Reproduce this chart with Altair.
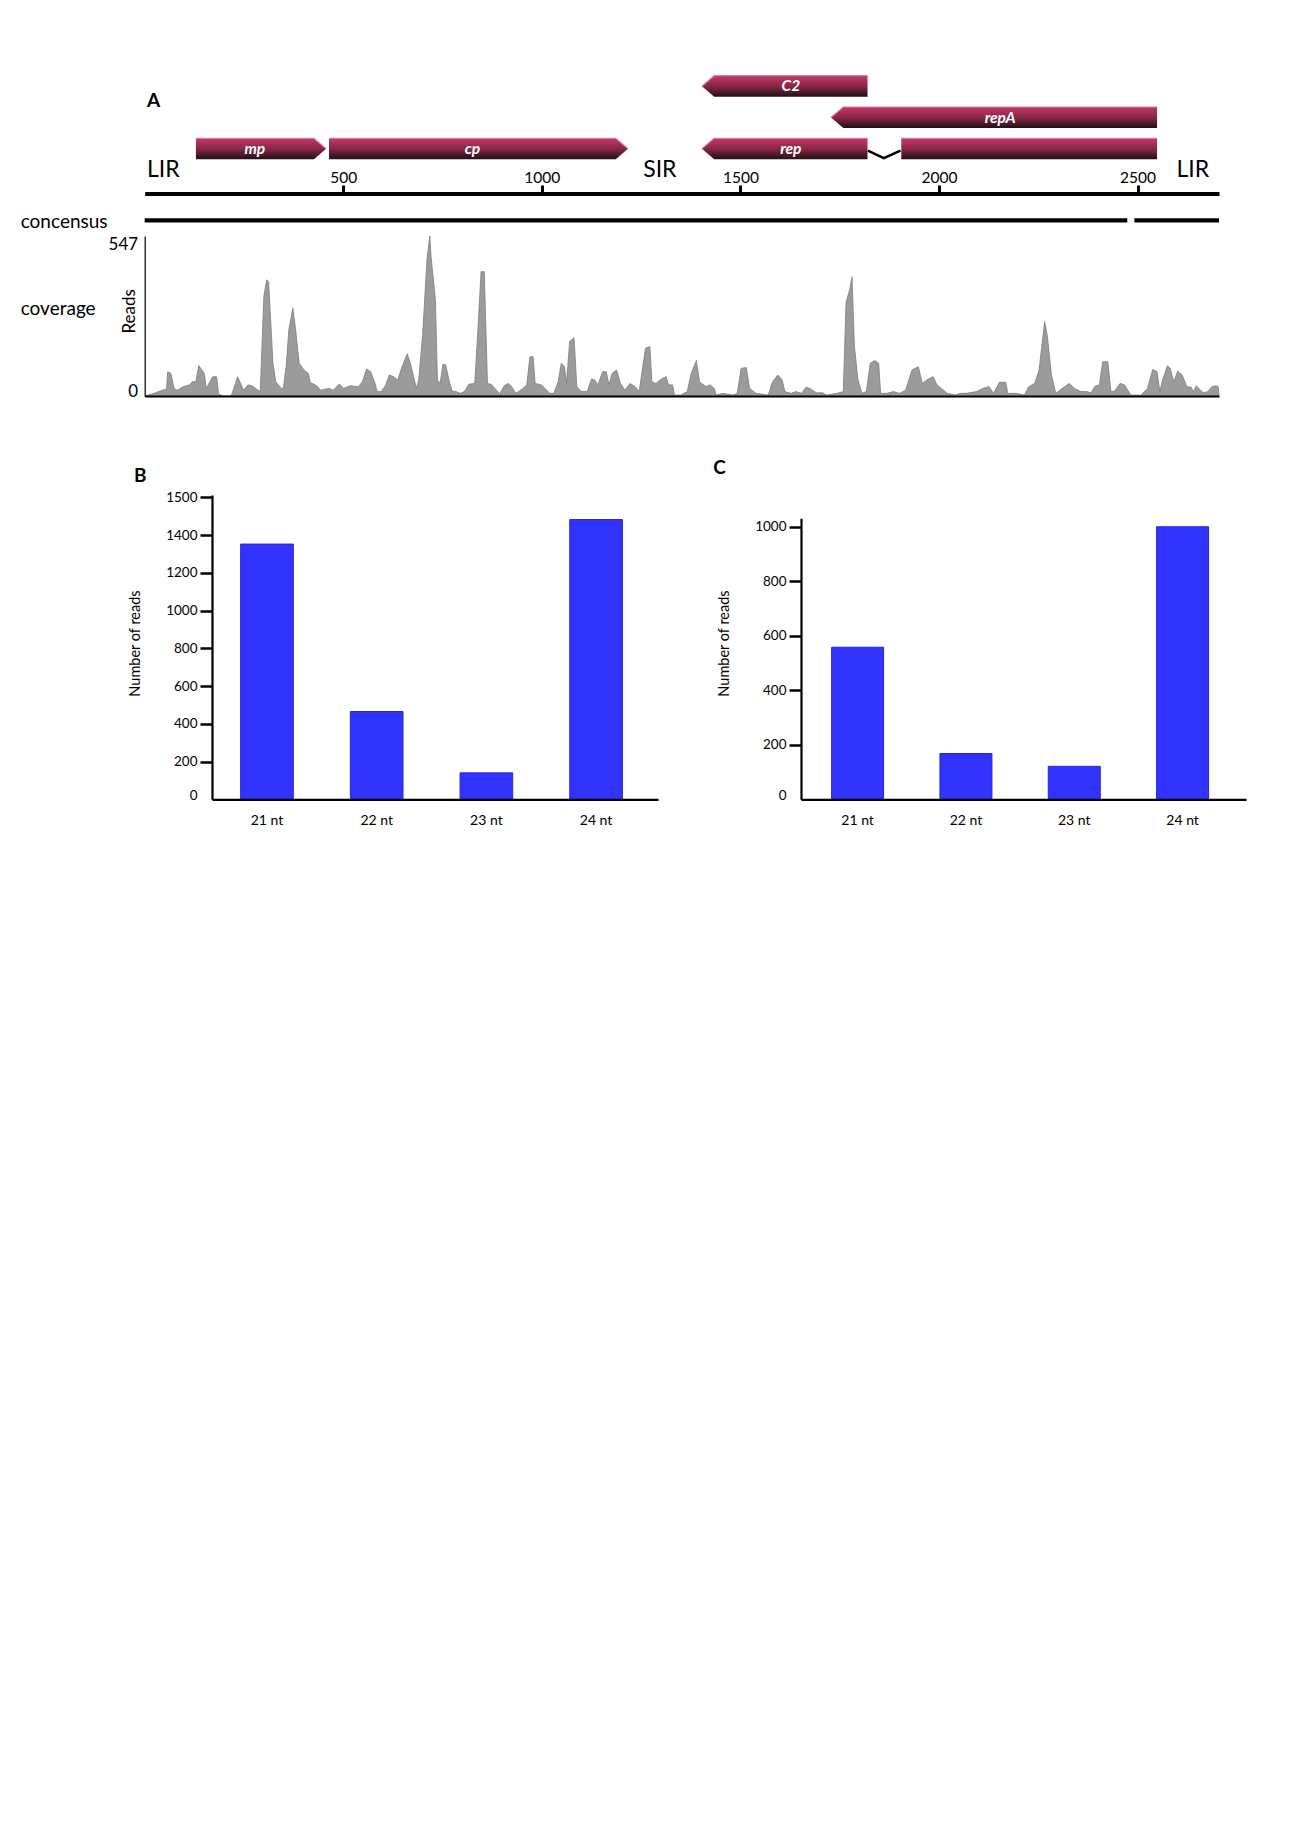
import altair as alt
import pandas as pd

# ------------------------------------------------------------------ data
genome_length = 2705
genome_ticks = [500, 1000, 1500, 2000, 2500]

gene_names = ["mp", "cp", "C2", "repA", "rep"]
gene_starts = [129, 464, 1403, 1728, 1403]
gene_ends = [457, 1217, 1820, 2549, 1820]
gene_strand = ["+", "+", "-", "-", "-"]
gene_lane = [0, 0, 2, 1, 0]
rep_exon2 = [1905, 2549]
intron_x = [1821, 1861, 1903]
intron_lane = [-0.06, -0.30, -0.06]

region_labels = ["LIR", "SIR", "LIR"]
region_pos = [47, 1297, 2639]

consensus_starts = [0, 2492]
consensus_ends = [2474, 2705]

coverage_pos = [
    0, 24, 45, 55, 58, 66, 74, 82, 97, 113, 120, 129, 136, 150, 155, 171, 181, 186, 197, 218,
    234, 249, 260, 270, 281, 291, 300, 307, 312, 317, 323, 330, 344, 349, 356, 363, 373, 380, 389, 401,
    412, 417, 433, 443, 464, 475, 490, 501, 517, 538, 548, 559, 569, 580, 585, 595, 606, 616, 627, 637,
    648, 661, 669, 679, 684, 690, 700, 711, 718, 721, 732, 737, 744, 751, 758, 766, 774, 784, 795, 805,
    816, 831, 839, 847, 855, 863, 873, 886, 894, 905, 915, 924, 934, 947, 962, 970, 978, 983, 999, 1020,
    1030, 1041, 1049, 1057, 1062, 1070, 1081, 1088, 1099, 1114, 1125, 1133, 1141, 1153, 1162, 1169, 1177, 1188, 1198, 1209,
    1222, 1235, 1245, 1261, 1272, 1277, 1287, 1303, 1313, 1319, 1329, 1334, 1350, 1366, 1376, 1389, 1397, 1413, 1424, 1434,
    1439, 1455, 1481, 1492, 1502, 1515, 1523, 1539, 1570, 1581, 1594, 1605, 1612, 1628, 1639, 1654, 1665, 1675, 1691, 1707,
    1717, 1743, 1759, 1766, 1775, 1781, 1787, 1796, 1806, 1817, 1827, 1838, 1848, 1853, 1869, 1885, 1901, 1916, 1932, 1948,
    1958, 1969, 1985, 1995, 2006, 2021, 2042, 2053, 2068, 2095, 2110, 2126, 2137, 2152, 2168, 2173, 2194, 2215, 2226, 2241,
    2252, 2266, 2273, 2283, 2294, 2310, 2328, 2341, 2357, 2372, 2383, 2393, 2404, 2412, 2425, 2433, 2441, 2456, 2467, 2483,
    2509, 2525, 2538, 2549, 2556, 2563, 2575, 2582, 2591, 2601, 2612, 2624, 2635, 2640, 2648, 2658, 2666, 2677, 2687, 2698,
    2703, 2705,
]
coverage_reads = [
    0, 9, 20, 23, 83, 77, 26, 20, 32, 38, 49, 49, 104, 77, 26, 66, 66, 7, 0, 0,
    66, 20, 38, 35, 24, 15, 340, 397, 391, 260, 112, 49, 26, 26, 100, 226, 300, 226, 112, 89,
    77, 46, 35, 20, 26, 20, 41, 26, 35, 32, 49, 92, 83, 43, 15, 15, 35, 72, 66, 55,
    100, 144, 112, 55, 26, 55, 214, 471, 547, 476, 328, 55, 43, 109, 106, 55, 17, 15, 9, 15,
    40, 43, 226, 425, 425, 43, 39, 20, 7, 35, 43, 32, 9, 20, 38, 134, 134, 43, 38, 9,
    9, 49, 112, 100, 43, 186, 199, 32, 15, 15, 58, 55, 38, 83, 83, 38, 77, 89, 43, 20,
    43, 32, 15, 163, 169, 49, 43, 60, 66, 38, 38, 3, 3, 15, 77, 121, 49, 32, 38, 26,
    3, 9, 3, 9, 95, 97, 26, 9, 3, 49, 72, 55, 15, 9, 15, 9, 30, 26, 11, 11,
    3, 9, 15, 322, 362, 408, 169, 55, 9, 15, 112, 121, 112, 9, 9, 15, 9, 20, 89, 100,
    43, 55, 66, 38, 26, 9, 3, 9, 9, 15, 26, 32, 9, 47, 47, 9, 9, 3, 32, 43,
    89, 254, 203, 72, 9, 26, 43, 26, 15, 15, 11, 34, 38, 117, 117, 15, 15, 43, 38, 3,
    3, 26, 91, 83, 15, 55, 103, 95, 49, 85, 72, 32, 30, 15, 35, 20, 11, 15, 32, 35,
    32, 0,
]

size_classes = ["21 nt", "22 nt", "23 nt", "24 nt"]
reads_B = [1352, 465, 140, 1482]
reads_C = [558, 168, 121, 1000]
tick_values_B = [0, 200, 400, 600, 800, 1000, 1200, 1400, 1600]
tick_labels_B = ["0", "200", "400", "600", "800", "1000", "1200", "1400", "1500"]
tick_values_C = [0, 200, 400, 600, 800, 1000]
tick_labels_C = ["0", "200", "400", "600", "800", "1000"]

# ------------------------------------------------------------------ layout
W, H = 1284, 835
FONT = "Lato"
HEAD = 31          # arrow head length (genome units)
HALF = 0.335       # half bar height (lane units)
LABEL_ROW = -0.668
CONSENSUS_ROW = -2.284

gx_scale = alt.Scale(domain=[0, genome_length], range=[136.7, 1211.0], nice=False, zero=False)
track_scale = alt.Scale(domain=[0, 2], range=[140.8, 78.2], nice=False, zero=False)
cov_scale = alt.Scale(domain=[0, 547], range=[388, 228], nice=False, zero=False)


def label_expr(values, labels):
    expr = "''"
    for v, l in reversed(list(zip(values, labels))):
        expr = f"datum.value == {v} ? '{l}' : ({expr})"
    return expr


# gene arrow polygons
rows, centers = [], []
for name, s, e, st, ln in zip(gene_names, gene_starts, gene_ends, gene_strand, gene_lane):
    top, bot = ln + HALF, ln - HALF
    if st == "+":
        pts = [(s, top, bot), (e - HEAD, top, bot), (e, ln, ln)]
        cx = (s + e - HEAD) / 2
    else:
        pts = [(s, ln, ln), (s + HEAD, top, bot), (e, top, bot)]
        cx = (s + HEAD + e) / 2
    for x, yt, yb in pts:
        rows.append({"part": name + "_1", "x": x, "ytop": yt, "ybot": yb})
    centers.append({"gene": name, "cx": cx, "lane": ln})
for x in rep_exon2:
    rows.append({"part": "rep_2", "x": x, "ytop": HALF, "ybot": -HALF})
genes_df = pd.DataFrame(rows)
centers_df = pd.DataFrame(centers)

grad = alt.Gradient(
    gradient="linear",
    stops=[
        alt.GradientStop(color="#c23a62", offset=0),
        alt.GradientStop(color="#8a2646", offset=0.5),
        alt.GradientStop(color="#1c1216", offset=1),
    ],
    x1=0, x2=0, y1=0, y2=1,
)

gene_area = alt.Chart(genes_df).mark_area(color=grad, opacity=1).encode(
    x=alt.X("x:Q", scale=gx_scale, axis=None),
    y=alt.Y("ytop:Q", scale=track_scale, axis=None),
    y2="ybot:Q",
    detail="part:N",
)
gene_edge = alt.Chart(genes_df).mark_line(color="#e07a97", strokeWidth=1.2).encode(
    x=alt.X("x:Q", scale=gx_scale, axis=None),
    y=alt.Y("ytop:Q", scale=track_scale, axis=None),
    detail="part:N",
)
intron = alt.Chart(pd.DataFrame({"x": intron_x, "lane": intron_lane})).mark_line(
    color="black", strokeWidth=2.5
).encode(
    x=alt.X("x:Q", scale=gx_scale, axis=None),
    y=alt.Y("lane:Q", scale=track_scale, axis=None),
)
gene_text = alt.Chart(centers_df).mark_text(
    font=FONT, fontSize=15.5, fontWeight="bold", fontStyle="italic", color="white", baseline="middle"
).encode(
    x=alt.X("cx:Q", scale=gx_scale, axis=None),
    y=alt.Y("lane:Q", scale=track_scale, axis=None),
    text="gene:N",
)
region_text = alt.Chart(
    pd.DataFrame({"label": region_labels, "pos": region_pos, "row": [LABEL_ROW] * 3})
).mark_text(font=FONT, fontSize=23, color="black", baseline="middle").encode(
    x=alt.X("pos:Q", scale=gx_scale, axis=None),
    y=alt.Y("row:Q", scale=track_scale, axis=None),
    text="label:N",
)

cons = alt.Chart(
    pd.DataFrame({"start": consensus_starts, "end": consensus_ends, "row": [CONSENSUS_ROW] * 2})
).mark_rule(color="black", strokeWidth=4.3).encode(
    x=alt.X(
        "start:Q", scale=gx_scale,
        axis=alt.Axis(
            orient="top", offset=-185.5, values=genome_ticks, format="d", title=None, grid=False,
            domainWidth=4, domainColor="black", tickColor="black", tickWidth=3, tickSize=8.5,
            labelFontSize=15.5, labelPadding=0, labelFlush=False, labelOverlap=False, zindex=1,
        ),
    ),
    x2="end:Q",
    y=alt.Y("row:Q", scale=track_scale, axis=None),
)

cov = alt.Chart(pd.DataFrame({"pos": coverage_pos, "reads": coverage_reads})).mark_area(
    color="#9b9b9b", opacity=1, line={"color": "#7b7b7b", "strokeWidth": 0.8}
).encode(
    x=alt.X(
        "pos:Q", scale=gx_scale,
        axis=alt.Axis(orient="bottom", offset=388 - H, ticks=False, tickSize=0, labels=False,
                      domainWidth=2, domainColor="black", title=None, grid=False, zindex=1),
    ),
    y=alt.Y(
        "reads:Q", scale=cov_scale,
        axis=alt.Axis(orient="left", offset=-136.7, values=[0, 547], format="d", ticks=False,
                      tickSize=0, labelFlush=False,
                      labelBaseline={"condition": {"test": "datum.value === 0", "value": "alphabetic"},
                                     "value": "top"},
                      labelPadding=7, labelFontSize=17, domainWidth=1.2,
                      domainColor="black", grid=False, title="Reads", titleFontSize=17,
                      titleX=-15, titleY=302.8, titleBaseline="middle", zindex=1),
    ),
)


def bar_panel(values, y_domain_max, x_range, y_range, y_offset, ticks, labels, band):
    p_in, p_out, al = band
    return alt.Chart(pd.DataFrame({"size": size_classes, "reads": values})).mark_bar(
        color="#3333ff", stroke="#2626d4", strokeWidth=1
    ).encode(
        x=alt.X(
            "size:N", sort=size_classes,
            scale=alt.Scale(range=x_range, paddingInner=p_in, paddingOuter=p_out, align=al),
            axis=alt.Axis(orient="bottom", offset=y_range[0] - H, ticks=False, tickSize=0,
                          labelPadding=14, labelAngle=0, labelFontSize=14, domainWidth=2.2,
                          domainColor="black", title=None, grid=False, zindex=1),
        ),
        y=alt.Y(
            "reads:Q",
            scale=alt.Scale(domain=[0, y_domain_max], range=y_range, nice=False, zero=True),
            axis=alt.Axis(orient="left", offset=-y_offset, values=ticks,
                          labelExpr=label_expr(ticks, labels), labelFontSize=13.5,
                          labelPadding=3, labelOverlap=False, tickSize=12, tickWidth=2.5,
                          tickColor="black",
                          tickOpacity={"condition": {"test": "datum.value === 0", "value": 0}, "value": 1},
                          labelBaseline={"condition": {"test": "datum.value === 0", "value": "alphabetic"},
                                         "value": "middle"},
                          domainWidth=2.2, domainColor="black", grid=False,
                          title="Number of reads", titleFontSize=14.5, titleX=-77, titleY=635,
                          titleBaseline="middle", zindex=1),
        ),
    )


barB = bar_panel(reads_B, 1612, [204, 650], [791.3, 487], 204, tick_values_B, tick_labels_B,
                 (0.52, 0.293, 0.446))
barC = bar_panel(reads_C, 1031, [793, 1238], [791.3, 510.3], 793, tick_values_C, tick_labels_C,
                 (0.52, 0.314, 0.45))


def annot(text, x, y, size, weight="normal", align="center"):
    return alt.Chart(pd.DataFrame({"t": [text]})).mark_text(
        font=FONT, fontSize=size, fontWeight=weight, align=align, baseline="middle", color="black"
    ).encode(text="t:N", x=alt.value(x), y=alt.value(y))


txtA = annot("A", 145.5, 93.1, 19, "bold")
txtB = annot("B", 132.3, 468.1, 19, "bold")
txtC = annot("C", 711.5, 459.8, 19, "bold")
txt_cons = annot("concensus", 12.7, 213.6, 19, align="left")
txt_cov = annot("coverage", 12.7, 301.0, 19, align="left")

chart = (
    alt.layer(gene_area, gene_edge, intron, gene_text, region_text, cons, cov, barB, barC,
              txtA, txtB, txtC, txt_cons, txt_cov)
    .resolve_scale(x="independent", y="independent")
    .properties(width=W, height=H, padding=0)
    .configure_view(stroke=None)
    .configure_axis(labelFont=FONT, titleFont=FONT, labelColor="black", titleColor="black",
                    titleFontWeight="normal")
)

chart.save("out.html", embed_options={"renderer": "svg", "actions": False})
